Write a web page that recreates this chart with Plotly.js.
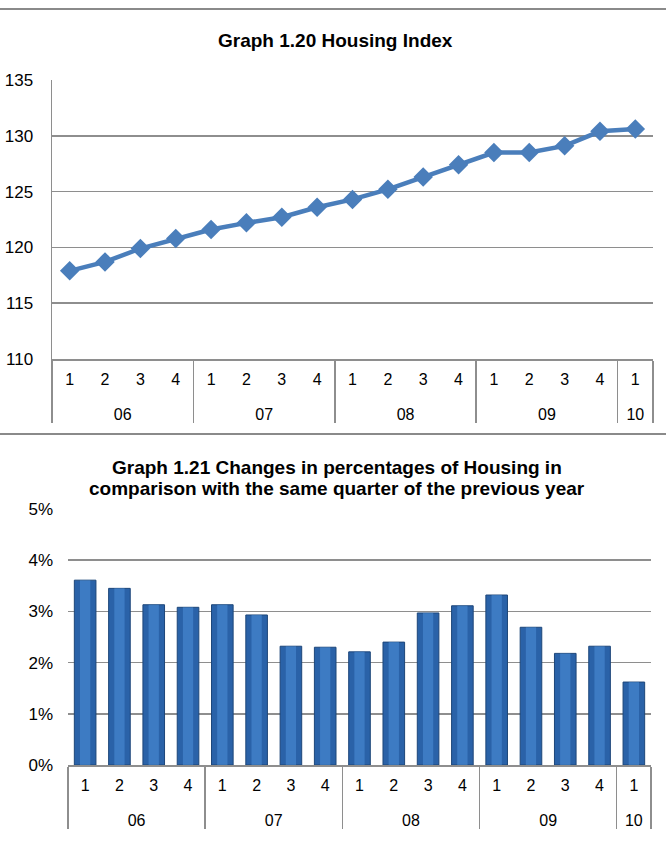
<!DOCTYPE html>
<html>
<head>
<meta charset="utf-8">
<script src="https://cdn.plot.ly/plotly-3.0.1.min.js"></script>
<style>
  html, body { margin: 0; padding: 0; background: #ffffff; }
  #chart { width: 666px; height: 859px; }
</style>
</head>
<body>
<div id="chart"></div>
<script>
// ---- data ----
var years    = ['06','06','06','06','07','07','07','07','08','08','08','08','09','09','09','09','10'];
var quarters = ['1','2','3','4','1','2','3','4','1','2','3','4','1','2','3','4','1'];
var housingIndex = [117.9, 118.7, 119.9, 120.8, 121.6, 122.2, 122.7, 123.6, 124.3, 125.2, 126.3, 127.4, 128.5, 128.5, 129.1, 130.4, 130.6];
var housingChange = [3.61, 3.45, 3.13, 3.08, 3.13, 2.93, 2.32, 2.30, 2.21, 2.40, 2.97, 3.11, 3.32, 2.69, 2.18, 2.32, 1.62];
var indexTicks = [110, 115, 120, 125, 130, 135];
var changeTicks = [0, 1, 2, 3, 4, 5];
var changeTickLabels = ['0%', '1%', '2%', '3%', '4%', '5%'];
var title1 = 'Graph 1.20 Housing Index';
var title2Lines = ['Graph 1.21 Changes in percentages of Housing in',
                   'comparison with the same quarter of the previous year'];

// ---- styling ----
var FONT = 'Liberation Sans, Arial, sans-serif';
var GRID = '#8e8e8e';
var W = 666, H = 859;
function px(x) { return x / W; }
function py(y) { return 1 - y / H; }

// year labels sit one line lower, as in the source chart
var yearLabels = years.map(function (y) { return '<br>' + y; });

var traces = [
  {
    type: 'scatter', mode: 'lines+markers',
    x: [yearLabels, quarters], y: housingIndex,
    xaxis: 'x', yaxis: 'y',
    line: { color: '#4a7ebb', width: 4.5 },
    marker: { symbol: 'diamond', size: 15, color: '#4a7ebb' },
    hoverinfo: 'y'
  },
  {
    type: 'bar',
    x: [yearLabels, quarters], y: housingChange,
    xaxis: 'x2', yaxis: 'y2',
    width: 0.63,
    marker: { color: '#2a62a8', line: { color: '#1d4679', width: 1 } },
    hoverinfo: 'y'
  },
  {
    type: 'bar',
    x: [yearLabels, quarters], y: housingChange,
    xaxis: 'x2', yaxis: 'y2',
    width: 0.3,
    marker: { color: '#4c90d8', opacity: 0.55 },
    hoverinfo: 'skip'
  }
];

var xCommon = {
  type: 'multicategory',
  range: [-0.5, 16.5], autorange: false,
  showgrid: false, zeroline: false,
  showline: true, linecolor: GRID, linewidth: 1.5,
  ticks: '', ticklabelstandoff: 5,
  showdividers: true, dividercolor: GRID, dividerwidth: 1.5,
  tickfont: { family: FONT, size: 16, color: '#000' }
};

var layout = {
  width: W, height: H,
  margin: { l: 0, r: 0, t: 0, b: 0 },
  paper_bgcolor: '#ffffff', plot_bgcolor: '#ffffff',
  showlegend: false,
  barmode: 'overlay',
  xaxis: Object.assign({}, xCommon, { domain: [px(52), px(653)], anchor: 'y' }),
  yaxis: {
    domain: [py(359), py(80)], range: [110, 135],
    tickvals: indexTicks,
    showgrid: true, gridcolor: GRID, gridwidth: 1.5,
    showline: true, linecolor: GRID, linewidth: 1.5,
    zeroline: false, ticks: '', ticklabelstandoff: 14,
    tickfont: { family: FONT, size: 17, color: '#000' },
    anchor: 'x'
  },
  xaxis2: Object.assign({}, xCommon, { domain: [px(68), px(651)], anchor: 'y2' }),
  yaxis2: {
    domain: [py(765), py(509)], range: [0, 5],
    tickvals: changeTicks, ticktext: changeTickLabels,
    showgrid: true, gridcolor: GRID, gridwidth: 1.5,
    showline: false,
    zeroline: false, ticks: '', ticklabelstandoff: 14,
    tickfont: { family: FONT, size: 17, color: '#000' },
    anchor: 'x2'
  },
  annotations: [
    { text: '<b>' + title1 + '</b>', xref: 'paper', yref: 'paper',
      x: px(336), y: py(40), xanchor: 'center', yanchor: 'middle', showarrow: false,
      font: { family: FONT, size: 19, color: '#000' } },
    { text: '<b>' + title2Lines[0] + '</b>', xref: 'paper', yref: 'paper',
      x: px(337), y: py(467), xanchor: 'center', yanchor: 'middle', showarrow: false,
      font: { family: FONT, size: 19, color: '#000' } },
    { text: '<b>' + title2Lines[1] + '</b>', xref: 'paper', yref: 'paper',
      x: px(337), y: py(488), xanchor: 'center', yanchor: 'middle', showarrow: false,
      font: { family: FONT, size: 19, color: '#000' } }
  ],
  shapes: [
    { type: 'line', xref: 'paper', yref: 'paper', x0: 0, x1: 1, y0: py(9), y1: py(9),
      line: { color: '#8a8a8a', width: 2 } },
    { type: 'line', xref: 'paper', yref: 'paper', x0: 0, x1: 1, y0: py(434), y1: py(434),
      line: { color: '#8a8a8a', width: 2 } }
  ]
};

Plotly.newPlot('chart', traces, layout, { displayModeBar: false, staticPlot: true });
</script>
</body>
</html>
